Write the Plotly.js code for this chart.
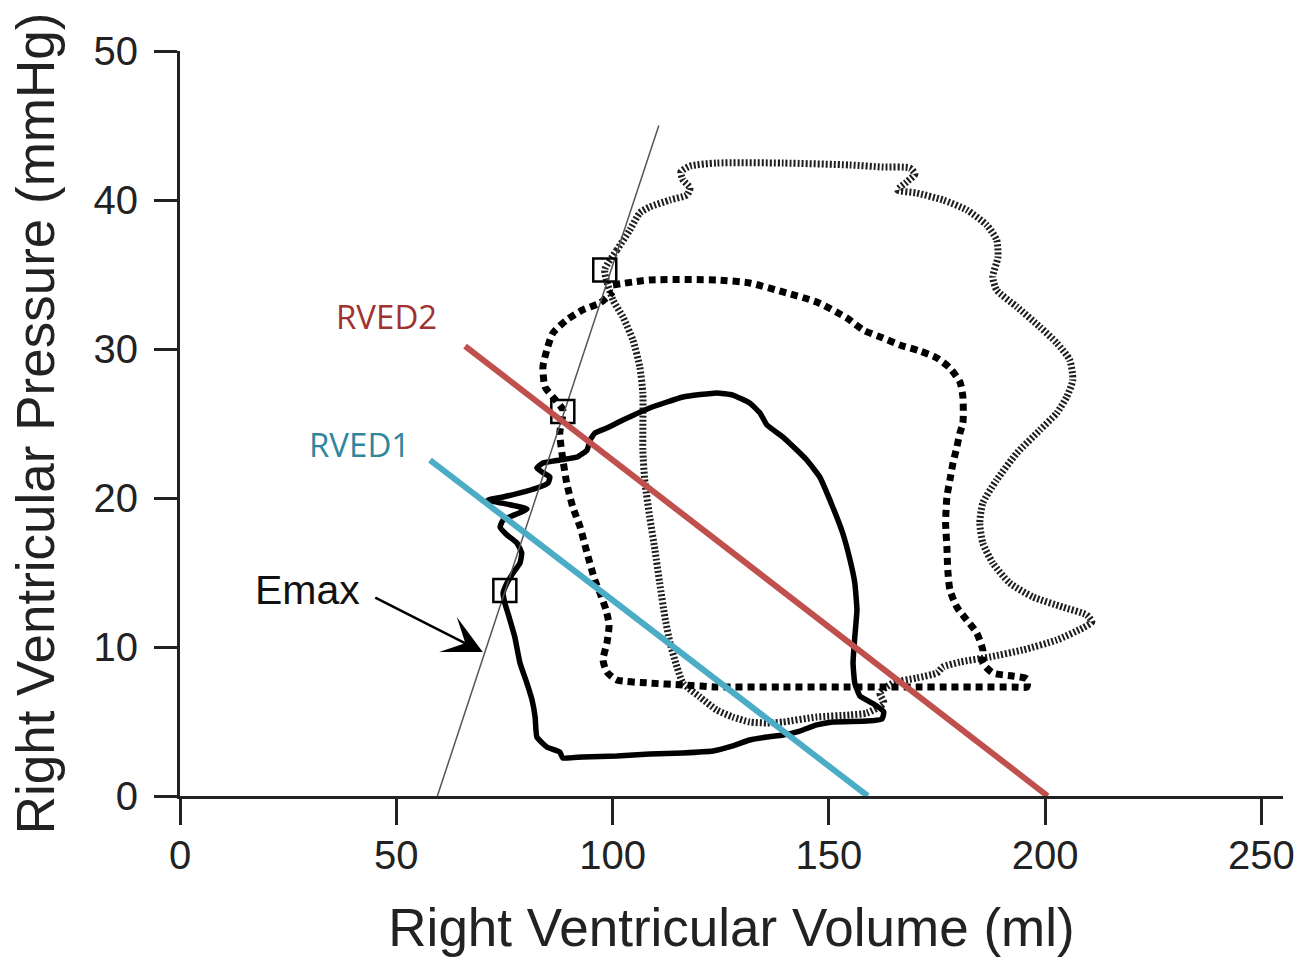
<!DOCTYPE html>
<html>
<head>
<meta charset="utf-8">
<script src="https://cdn.plot.ly/plotly-3.0.1.min.js"></script>
<style>html,body{margin:0;padding:0;background:#fff;}#chart{width:1300px;height:957px;}</style>
</head>
<body>
<div id="chart"></div>
<script>
// Baseline loop (solid)
const solidV = [124.1,116.3,108.6,102.4,98.7,95.9,94.8,94.1,91.8,87.8,83.9,82.5,83.7,85.5,85.1,82.5,78.6,74.7,71.2,80.2,74.7,74.0,75.6,77.9,79.0,78.6,77.0,75.6,74.7,75.1,75.8,77.4,78.6,80.2,81.4,82.1,82.5,84.8,87.8,88.5,93.1,101.0,108.6,116.3,123.2,127.8,131.7,135.7,139.4,143.3,147.2,150.9,158.8,162.3,162.7,160.4,157.2,156.0,155.6,156.0,156.5,156.0,154.9,153.2,150.9,147.9,144.9,142.6,139.4,135.7,134.1,131.7,127.8,124.1];
const solidP = [27.05,26.78,26.04,25.23,24.70,24.36,23.89,23.22,22.75,22.55,22.35,22.01,21.74,21.41,21.01,20.67,20.34,20.07,19.87,19.26,18.52,18.05,17.52,16.98,16.31,15.64,14.97,14.30,13.62,12.95,12.28,10.67,8.93,7.58,6.44,5.30,3.96,3.29,2.95,2.55,2.62,2.68,2.82,2.89,3.02,3.36,3.76,3.96,4.09,4.36,4.77,4.97,5.03,5.17,5.64,6.17,6.71,7.58,8.93,10.67,12.48,14.30,15.84,17.65,19.40,21.41,22.55,23.22,24.09,24.90,25.70,26.38,26.91,27.05];

// Second loop (black dotted)
const dottedV = [100.1,108.6,124.1,131.7,139.4,147.2,154.2,157.9,162.5,166.4,171.0,175.0,178.0,180.3,181.0,181.0,180.3,179.6,178.7,178.0,177.3,177.0,177.3,177.5,178.0,179.6,181.9,184.2,185.6,185.6,187.9,192.5,195.8,195.8,192.5,185.6,178.0,170.3,162.5,154.9,139.4,124.1,116.3,108.6,101.0,98.7,97.8,98.7,99.2,98.5,97.1,95.9,94.1,92.5,90.8,89.4,88.3,87.8,88.5,86.2,84.4,83.9,84.8,86.2,89.4,93.1,97.1,100.1];
const dottedP = [34.30,34.63,34.63,34.43,33.83,33.15,32.08,31.28,30.74,30.27,29.87,29.40,28.72,27.79,26.78,25.03,24.36,23.42,22.35,21.21,20.07,18.32,16.71,15.17,13.83,12.68,11.81,10.94,9.80,8.93,8.26,8.05,7.85,7.32,7.32,7.32,7.32,7.32,7.32,7.32,7.32,7.32,7.45,7.58,7.79,8.32,9.13,10.27,11.48,12.48,13.62,14.50,16.31,18.05,19.40,21.01,23.02,24.36,25.91,26.78,27.45,28.79,29.93,31.07,31.95,32.62,33.09,33.83];

// Third loop (grey hatched)
const hatchV = [98.2,101.0,104.0,106.3,108.6,113.3,117.2,117.9,116.3,115.8,117.9,124.1,139.4,154.9,162.5,168.7,169.9,168.0,165.9,170.3,176.4,181.9,186.5,188.8,189.1,187.9,188.8,193.5,198.8,202.7,205.7,206.4,205.0,202.7,198.8,193.5,188.8,185.6,184.9,185.6,187.9,191.8,197.2,204.1,209.6,210.8,208.7,202.7,194.8,187.2,180.3,176.4,175.0,170.3,164.8,161.8,162.7,158.8,154.9,147.2,139.4,135.7,131.7,127.8,124.1,120.2,116.3,114.9,113.3,112.1,110.9,109.8,108.6,107.5,107.0,107.0,106.3,104.7,102.4,100.1,98.2];
const hatchP = [35.30,36.64,37.99,39.13,39.53,40.00,40.34,40.81,41.34,41.88,42.28,42.48,42.48,42.35,42.21,42.15,41.74,41.21,40.67,40.47,40.00,39.33,38.32,37.32,36.17,34.83,33.96,32.82,31.48,30.40,29.26,27.92,26.78,25.70,24.56,23.02,21.21,19.66,18.32,16.98,15.64,14.30,13.36,12.68,12.15,11.68,11.28,10.47,9.80,9.33,8.99,8.66,8.26,7.92,7.58,6.91,6.24,5.57,5.44,5.30,4.97,4.90,4.97,5.30,5.77,6.64,7.58,8.66,10.27,12.01,14.30,16.51,18.72,21.01,23.22,27.05,28.79,30.60,32.15,33.29,35.30];

// Emax line and end-systolic points
const emaxV = [59.5, 110.7];
const emaxP = [0, 45];
const esV = [75.1, 88.5, 98.2];
const esP = [13.8, 25.8, 35.3];

// RVED lines
const rved1V = [57.8, 159.0];
const rved1P = [22.55, 0];
const rved2V = [65.9, 200.6];
const rved2P = [30.2, 0];

// Axis ticks
const xTicks = [0, 50, 100, 150, 200, 250];
const yTicks = [0, 10, 20, 30, 40, 50];

const baseFont = 'Liberation Sans, Arial, Helvetica, sans-serif';

const traces = [
  {x: hatchV, y: hatchP, mode: 'lines', line: {color: '#1e1e1e', width: 7, dash: '2px,2px', shape: 'spline', smoothing: 0.6}, hoverinfo: 'skip'},
  {x: dottedV, y: dottedP, mode: 'lines', line: {color: '#000', width: 7, dash: '7px,5px', shape: 'spline', smoothing: 0.6}, hoverinfo: 'skip'},
  {x: solidV, y: solidP, mode: 'lines', line: {color: '#000', width: 5.5, shape: 'spline', smoothing: 0.4}, hoverinfo: 'skip'},
  {x: emaxV, y: emaxP, mode: 'lines', line: {color: '#555', width: 1.5}, hoverinfo: 'skip'},
  {x: esV, y: esP, mode: 'markers', marker: {symbol: 'square-open', size: 23, color: '#000', line: {width: 2.5, color: '#000'}}, hoverinfo: 'skip'},
  {x: rved2V, y: rved2P, mode: 'lines', line: {color: '#C0504D', width: 6}, hoverinfo: 'skip'},
  {x: rved1V, y: rved1P, mode: 'lines', line: {color: '#4BACC6', width: 6}, hoverinfo: 'skip'}
];

const layout = {
  width: 1300, height: 957,
  margin: {l: 180, r: 17, t: 51, b: 161},
  paper_bgcolor: '#fff', plot_bgcolor: '#fff',
  showlegend: false,
  font: {family: baseFont, color: '#222'},
  xaxis: {
    range: [0, 255], tickvals: xTicks, ticktext: xTicks.map(String),
    showgrid: false, zeroline: false, showline: true, linecolor: '#222', linewidth: 3,
    ticks: 'outside', ticklen: 26, tickwidth: 3, tickcolor: '#222',
    ticklabelstandoff: -4,
    tickfont: {family: baseFont, size: 40, color: '#222'},
    title: {text: 'Right Ventricular Volume (ml)', font: {family: baseFont, size: 53, color: '#222'}, standoff: 37},
    fixedrange: true
  },
  yaxis: {
    range: [0, 50], tickvals: yTicks, ticktext: yTicks.map(String),
    showgrid: false, zeroline: false, showline: true, linecolor: '#222', linewidth: 3,
    ticks: 'outside', ticklen: 23, tickwidth: 3, tickcolor: '#222',
    ticklabelstandoff: 8,
    tickfont: {family: baseFont, size: 40, color: '#222'},
    title: {text: 'Right Ventricular Pressure (mmHg)', font: {family: baseFont, size: 53, color: '#222'}, standoff: 22},
    fixedrange: true
  },
  annotations: [
    {x: 47.8, y: 32.2, xref: 'x', yref: 'y', text: 'RVED2', showarrow: false, font: {family: 'Open Sans, sans-serif', size: 33, color: '#A0332F'}},
    {x: 41.6, y: 23.6, xref: 'x', yref: 'y', text: 'RVED1', showarrow: false, font: {family: 'Open Sans, sans-serif', size: 33, color: '#31869C'}},
    {x: 29.4, y: 13.8, xref: 'x', yref: 'y', text: 'Emax', showarrow: false, font: {family: baseFont, size: 41, color: '#111'}},
    {x: 70.0, y: 9.66, xref: 'x', yref: 'y', ax: 44.8, ay: 13.36, axref: 'x', ayref: 'y', text: '', showarrow: true, arrowhead: 3, arrowsize: 2.6, arrowwidth: 2.5, arrowcolor: '#000'}
  ]
};

Plotly.newPlot('chart', traces, layout, {displayModeBar: false, staticPlot: true});
</script>
</body>
</html>
